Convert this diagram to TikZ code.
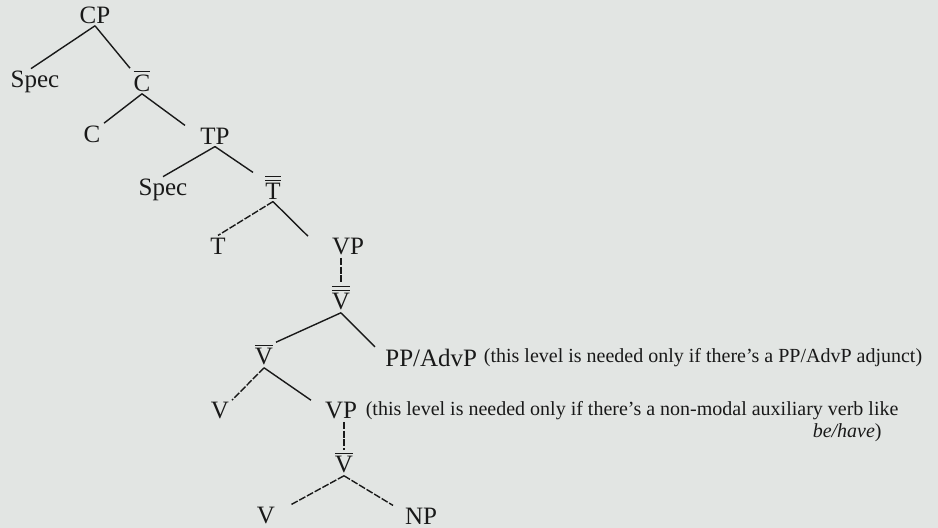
\documentclass[tikz,border=0pt]{standalone}
\usepackage{fontspec}
\setmainfont{Liberation Serif}
\usepackage{xcolor}
\usepackage{tikz}
\definecolor{paper}{RGB}{226,229,227}
\definecolor{ink}{RGB}{25,25,25}
\newcommand{\sbar}[1]{$\overline{\mbox{#1}}$}
\newcommand{\dbar}[1]{$\overline{\overline{\mbox{#1}}}$}

\begin{document}
\begin{tikzpicture}[x=0.5pt, y=-0.5pt,
    cat/.style={text=ink, font=\fontsize{12.5}{14}\selectfont, inner sep=1pt},
    note/.style={text=ink, font=\fontsize{10}{12}\selectfont, inner sep=0pt, anchor=west},
    branch/.style={draw=ink, line width=0.7pt},
    faint/.style={branch, dash pattern=on 3.5pt off 0.9pt}]
    \fill[paper] (0,0) rectangle (938,528);
    \useasboundingbox (0,0) rectangle (938,528);

    % CP layer
    \node[cat] (CP) at (95,15) {CP};
    \node[cat] (specC) at (35,82) {Spec};
    \node[cat] (Cbar) at (142,81) {\sbar{C}};
    \node[cat] (C) at (92,134) {C};
    \node[cat] (TP) at (215,136) {TP};

    % TP layer
    \node[cat] (specT) at (163,190) {Spec};
    \node[cat] (Tbar) at (273,187) {\dbar{T}};
    \node[cat] (T) at (218,246) {T};
    \node[cat] (VP) at (348,247) {VP};

    % VP layer
    \node[cat] (Vbar) at (341,298) {\dbar{V}};
    \node[cat] (Vbarlow) at (264,355) {\sbar{V}};
    \node[cat, anchor=west] (PP) at (383,358) {PP/AdvP};
    \node[note] (ppnote) at ([xshift=2pt]PP.east) {(this level is needed only if there's a PP/AdvP adjunct)};
    \node[cat] (V) at (220,411) {V};
    \node[cat] (VPlow) at (341,411) {VP};
    \node[note] (vpnote) at ([xshift=3pt]VPlow.east) {(this level is needed only if there's a non-modal auxiliary verb like};
    \node[note, anchor=east] (vpnote2) at (882,433) {\textit{be/have})};
    \node[cat] (Vsmall) at (344,463) {\sbar{V}};
    \node[cat] (Vhead) at (266,516) {V};
    \node[cat] (NP) at (421,516) {NP};

    % branches
    \draw[branch] (CP.south) -- ([xshift=-2pt]specC.north);
    \draw[branch] (CP.south) -- ([xshift=-6pt]Cbar.north);
    \draw[branch] (Cbar.south) -- ([xshift=6pt]C.north);
    \draw[branch] (Cbar.south) -- ([xshift=-15pt]TP.north);
    \draw[branch] (TP.south) -- (specT.north);
    \draw[branch] (TP.south) -- ([xshift=-10pt]Tbar.north);
    \draw[faint] (Tbar.south) -- (T.north);
    \draw[branch] (Tbar.south) -- ([xshift=-20pt]VP.north);
    \draw[faint] (VP.south -| Vbar.north) -- (Vbar.north);
    \draw[branch] (Vbar.south) -- ([xshift=6pt]Vbarlow.north);
    \draw[branch] (Vbar.south) -- ([xshift=-4pt]PP.north west);
    \draw[faint] (Vbarlow.south) -- ([xshift=6pt]V.north);
    \draw[branch] (Vbarlow.south) -- ([xshift=-15pt]VPlow.north);
    \draw[faint] (VPlow.south -| Vsmall.north) -- (Vsmall.north);
    \draw[faint] (Vsmall.south) -- ([xshift=12pt]Vhead.north);
    \draw[faint] (Vsmall.south) -- ([xshift=-14pt]NP.north);
\end{tikzpicture}
\end{document}
